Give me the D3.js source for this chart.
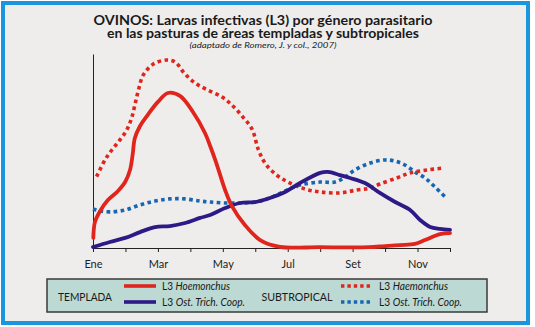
<!DOCTYPE html>
<html>
<head>
<meta charset="utf-8">
<script src="https://cdn.jsdelivr.net/npm/d3@7"></script>
<style>
  body { margin: 0; background: #fff; }
  svg { display: block; font-family: Lato, "Open Sans", sans-serif; }
</style>
</head>
<body>
<div id="chart"></div>
<script>
// months on the x axis (index 0 = Ene)
const months = ["Ene", "Feb", "Mar", "Abr", "May", "Jun", "Jul", "Ago", "Set", "Oct", "Nov", "Dic"];

// relative level of infective larvae, [month index, level 0-100]
const templadaHaem = [
  [0.01, 5.2], [0.06, 13.4], [0.22, 19.1], [0.46, 24.7], [0.77, 29.4], [0.99, 34.0],
  [1.14, 40.2], [1.22, 47.9], [1.29, 56.7], [1.45, 62.9], [1.66, 68.0], [2.0, 75.3],
  [2.31, 79.9], [2.68, 78.4], [3.08, 70.1], [3.45, 59.3], [3.61, 52.6], [3.79, 44.3],
  [4.07, 29.9], [4.28, 21.6], [4.68, 11.9], [5.15, 4.1], [5.76, 0.6], [7.0, 0.4],
  [8.5, 0.4], [9.0, 1.0], [9.46, 1.5], [9.92, 2.1], [10.23, 4.1], [10.69, 7.2], [11.0, 7.7]
];
const templadaOst = [
  [0, 0.5], [0.52, 3.1], [0.99, 5.2], [1.45, 8.2], [1.91, 10.8], [2.37, 11.3],
  [2.84, 12.9], [3.3, 15.5], [3.61, 17.0], [4.07, 20.6], [4.53, 23.2], [4.99, 23.7],
  [5.45, 25.8], [5.92, 28.9], [6.38, 33.5], [7.0, 38.7], [7.24, 39.2], [7.61, 37.6],
  [7.92, 36.1], [8.38, 33.5], [8.84, 28.4], [9.31, 23.7], [9.77, 19.6], [10.08, 14.4],
  [10.39, 10.8], [10.69, 9.8], [11.0, 9.3]
];
const subtropHaem = [
  [0.11, 36.8], [0.37, 45.4], [0.58, 50.5], [0.83, 55.7], [1.04, 60.8], [1.19, 67.0],
  [1.29, 73.7], [1.4, 81.4], [1.55, 89.2], [1.86, 94.8], [2.27, 96.9], [2.53, 95.9],
  [2.81, 90.2], [3.14, 85.1], [3.54, 81.4], [3.98, 77.8], [4.31, 73.2], [4.62, 67.5],
  [4.9, 61.3], [5.1, 50.5], [5.32, 43.3], [5.66, 37.6], [6.01, 34.0], [6.53, 30.4],
  [7.0, 28.9], [7.61, 28.4], [8.13, 29.9], [8.54, 30.9], [8.84, 33.0], [9.36, 36.1],
  [9.77, 38.7], [10.28, 40.2], [10.79, 41.2]
];
const subtropOst = [
  [0, 20.1], [0.22, 19.1], [0.52, 18.6], [0.99, 19.6], [1.45, 22.2], [1.91, 24.2],
  [2.37, 25.3], [2.84, 25.3], [3.3, 24.2], [3.61, 23.7], [4.07, 23.2], [4.53, 23.2],
  [4.99, 23.7], [5.45, 25.8], [5.92, 29.4], [6.38, 32.5], [7.0, 34.0], [7.46, 34.0],
  [7.77, 36.6], [8.07, 40.2], [8.54, 43.8], [9.0, 45.4], [9.31, 44.8], [9.61, 42.8],
  [9.92, 39.2], [10.23, 36.1], [10.54, 31.4], [10.91, 25.3]
];

const red = "#e0251d", navy = "#2d1a86", blue = "#1766b1";

const width = 535, height = 327;
const margin = {left: 93, right: 85, top: 54, bottom: 79};

const svg = d3.select("#chart").append("svg")
  .attr("width", width)
  .attr("height", height);

// frame
svg.append("rect")
  .attr("x", 3).attr("y", 3)
  .attr("width", 525).attr("height", 320)
  .attr("fill", "#efedec")
  .attr("stroke", "#1a96de")
  .attr("stroke-width", 4);

// titles
const titles = [
  {text: "OVINOS: Larvas infectivas (L3) por género parasitario", y: 25, size: 14, w: 339, weight: "bold", style: "normal"},
  {text: "en las pasturas de áreas templadas y subtropicales", y: 38, size: 14, w: 312, weight: "bold", style: "normal"},
  {text: "(adaptado de Romero, J. y col., 2007)", y: 48, size: 8.5, w: 147, weight: "normal", style: "italic"}
];
svg.selectAll("text.title")
  .data(titles)
  .join("text")
    .attr("class", "title")
    .attr("x", 263)
    .attr("y", d => d.y)
    .attr("text-anchor", "middle")
    .attr("font-size", d => d.size)
    .attr("font-weight", d => d.weight)
    .attr("font-style", d => d.style)
    .attr("textLength", d => d.w)
    .attr("lengthAdjust", "spacingAndGlyphs")
    .attr("fill", "#1a1a1a")
    .text(d => d.text);

let x = d3.scaleLinear()
  .domain([0, 11])
  .range([margin.left, width - margin.right]);
let y = d3.scaleLinear()
  .domain([0, 100])
  .range([height - margin.bottom, margin.top]);

let xAxisCall = d3.axisBottom(x)
  .tickValues(d3.range(12))
  .tickFormat(i => i % 2 === 0 ? months[i] : "")
  .tickSize(4)
  .tickSizeOuter(0)
  .tickPadding(8);

let xAxisGroup = svg.append("g")
  .attr("transform", `translate(0, ${height - margin.bottom})`)
  .call(xAxisCall);
xAxisGroup.selectAll("text")
  .attr("font-size", 11)
  .attr("font-family", "Lato, sans-serif")
  .attr("fill", "#222");
xAxisGroup.selectAll("line, path").attr("stroke", "#222");

let yAxisGroup = svg.append("g")
  .attr("transform", `translate(${margin.left}, 0)`)
  .call(d3.axisLeft(y).tickValues([]).tickSizeOuter(0));
yAxisGroup.select("path").attr("stroke", "#222");

const line = d3.line()
  .x(d => x(d[0]))
  .y(d => y(d[1]))
  .curve(d3.curveCatmullRom.alpha(0.5));

const series = [
  {data: subtropOst, color: blue, dotted: true},
  {data: subtropHaem, color: red, dotted: true},
  {data: templadaOst, color: navy, dotted: false},
  {data: templadaHaem, color: red, dotted: false}
];

svg.append("g").selectAll("path")
  .data(series)
  .join("path")
    .attr("d", d => line(d.data))
    .attr("fill", "none")
    .attr("stroke", d => d.color)
    .attr("stroke-width", d => d.dotted ? 3.6 : 3.8)
    .attr("stroke-dasharray", d => d.dotted ? "3.6,3.4" : null)
    .attr("stroke-linecap", d => d.dotted ? "butt" : "round")
    .attr("stroke-linejoin", "round");

// legend
const legend = svg.append("g");
legend.append("rect")
  .attr("x", 47).attr("y", 279)
  .attr("width", 440).attr("height", 33)
  .attr("fill", "#bcd9d3")
  .attr("stroke", "#3a3a3a")
  .attr("stroke-width", 1.5);

const groups = [
  {name: "TEMPLADA", x: 85, w: 54},
  {name: "SUBTROPICAL", x: 297, w: 71}
];
legend.selectAll("text.group")
  .data(groups)
  .join("text")
    .attr("class", "group")
    .attr("x", d => d.x)
    .attr("y", 301)
    .attr("text-anchor", "middle")
    .attr("font-size", 11)
    .attr("textLength", d => d.w)
    .attr("lengthAdjust", "spacingAndGlyphs")
    .attr("fill", "#1a1a1a")
    .text(d => d.name);

const items = [
  {x: 124, y: 286, color: red, dotted: false, genus: "Hoemonchus", w: 68},
  {x: 124, y: 302, color: navy, dotted: false, genus: "Ost. Trich. Coop.", w: 83},
  {x: 341, y: 286, color: red, dotted: true, genus: "Haemonchus", w: 69},
  {x: 341, y: 302, color: blue, dotted: true, genus: "Ost. Trich. Coop.", w: 83}
];
items.forEach(d => {
  legend.append("line")
    .attr("x1", d.x).attr("x2", d.x + 32)
    .attr("y1", d.y).attr("y2", d.y)
    .attr("stroke", d.color)
    .attr("stroke-width", d.dotted ? 3.4 : 3.6)
    .attr("stroke-dasharray", d.dotted ? "3.4,3" : null);
  const t = legend.append("text")
    .attr("x", d.x + 38)
    .attr("y", d.y + 4)
    .attr("font-size", 10.5)
    .attr("textLength", d.w)
    .attr("lengthAdjust", "spacingAndGlyphs")
    .attr("fill", "#1a1a1a");
  t.append("tspan").text("L3 ");
  t.append("tspan").attr("font-style", "italic").text(d.genus);
});
</script>
</body>
</html>
